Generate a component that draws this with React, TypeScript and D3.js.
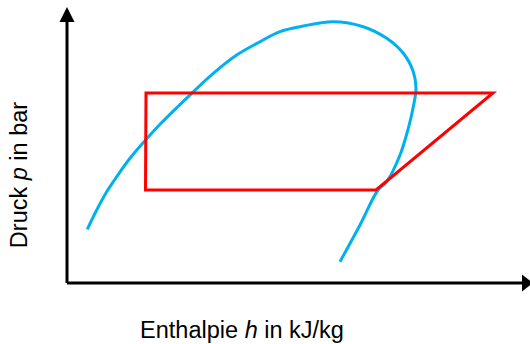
import { useEffect, useRef } from 'react';
import * as d3 from 'd3';

// Sättigungslinie (Nassdampfgebiet)
const domeH = [20.3, 29.7, 39.7, 49.7, 63, 78, 92.3, 124.7, 146.3, 169.7, 193, 213, 233, 266.3, 296.3, 319.7, 336.3, 346.3, 349, 346.3, 341.3, 333, 319.7, 311, 293, 273];
const domeP = [53.7, 73, 91.3, 106.3, 124.7, 142.3, 158, 189.7, 209.7, 228, 241.3, 251.3, 256.3, 261.3, 256.3, 244.7, 229.7, 211.3, 194.7, 176.3, 154.7, 128, 101.3, 93, 58, 21.3];

// Kreisprozess
const cycleH = [79, 426, 309, 78.5];
const cycleP = [190, 190, 93, 93];

const W = 530;
const H = 344;

export default function App() {
  const ref = useRef<SVGSVGElement>(null);

  useEffect(() => {
    const svg = d3.select(ref.current);
    svg.selectAll('*').remove();

    const x = d3.scaleLinear().domain([0, 460]).range([67, 527]);
    const y = d3.scaleLinear().domain([0, 276]).range([283, 7]);

    const line = d3.line<[number, number]>()
      .x(d => x(d[0]))
      .y(d => y(d[1]));

    // Achsen mit Pfeilspitzen
    const x0 = x(0), y0 = y(0);
    const yTop = y(276), xEnd = x(460);
    svg.append('path')
      .attr('d', `M${x0},${y0}L${x0},${yTop + 15}M${x0},${y0}L${xEnd - 5},${y0}`)
      .attr('stroke', '#000')
      .attr('stroke-width', 3)
      .attr('fill', 'none');
    svg.append('path')
      .attr('d', `M${x0},${yTop}L${x0 - 7.5},${yTop + 15}L${x0 + 7.5},${yTop + 15}Z`)
      .attr('fill', '#000');
    svg.append('path')
      .attr('d', `M${xEnd + 6},${y0}L${xEnd - 5},${y0 - 8.5}L${xEnd - 5},${y0 + 8.5}Z`)
      .attr('fill', '#000');

    // Nassdampfgebiet
    const dome = domeH.map((h, i) => [h, domeP[i]] as [number, number]);
    svg.append('path')
      .attr('d', line.curve(d3.curveCatmullRom)(dome))
      .attr('fill', 'none')
      .attr('stroke', '#00b0f0')
      .attr('stroke-width', 3);

    // Kreisprozess
    const cycle = cycleH.map((h, i) => [h, cycleP[i]] as [number, number]);
    svg.append('path')
      .attr('d', line.curve(d3.curveLinearClosed)(cycle))
      .attr('fill', 'none')
      .attr('stroke', '#ff0000')
      .attr('stroke-width', 3);

    // Beschriftung
    const xl = svg.append('text')
      .attr('x', 242)
      .attr('y', 338)
      .attr('text-anchor', 'middle')
      .style('font-family', 'Liberation Sans, Arial, sans-serif')
      .style('font-size', '23.5px');
    xl.append('tspan').text('Enthalpie ');
    xl.append('tspan').style('font-style', 'italic').text('h');
    xl.append('tspan').text(' in kJ/kg');

    const yl = svg.append('text')
      .attr('transform', 'translate(27,175) rotate(-90)')
      .attr('text-anchor', 'middle')
      .style('font-family', 'Liberation Sans, Arial, sans-serif')
      .style('font-size', '23.5px');
    yl.append('tspan').text('Druck ');
    yl.append('tspan').style('font-style', 'italic').text('p');
    yl.append('tspan').text(' in bar');
  }, []);

  return (
    <svg
      ref={ref}
      width={W}
      height={H}
      style={{ position: 'absolute', left: 0, top: 0, background: '#fff' }}
    />
  );
}
